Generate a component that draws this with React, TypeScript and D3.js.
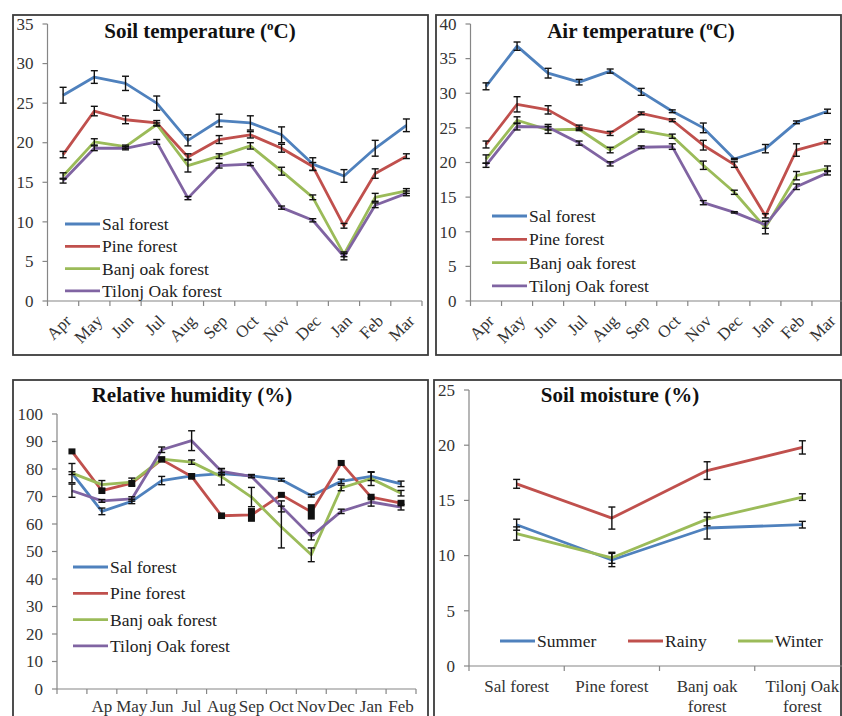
import * as d3 from "d3";

const FONT = "'Liberation Serif', 'Times New Roman', serif";
const COLORS = ["#4F81BD", "#C0504D", "#9BBB59", "#8064A2"];
const AXIS = "#868686";
const INK = "#333";

const FORESTS = ["Sal forest", "Pine forest", "Banj oak forest", "Tilonj Oak forest"];
const MONTHS = ["Apr", "May", "Jun", "Jul", "Aug", "Sep", "Oct", "Nov", "Dec", "Jan", "Feb", "Mar"];
// humidity panel shows shifted, overlapping labels
const RH_LABELS = ["", "Ap", "May", "Jun", "Jul", "Aug", "Sep", "Oct", "Nov", "Dec", "Jan", "Feb"];
const SM_SITES = ["Sal forest", "Pine forest", "Banj oak|forest", "Tilonj Oak|forest"];
const SEASONS = ["Summer", "Rainy", "Winter"];

// soil temperature (°C)
const ST_SAL = [26.0, 28.3, 27.5, 25.0, 20.3, 22.8, 22.5, 21.0, 17.3, 15.8, 19.3, 22.2];
const ST_SAL_ERR = [1.0, 0.8, 0.9, 0.9, 0.7, 0.8, 0.9, 1.0, 0.8, 0.8, 1.0, 0.8];
const ST_PINE = [18.5, 24.0, 22.9, 22.5, 18.2, 20.4, 21.0, 19.3, 17.0, 9.5, 16.1, 18.3];
const ST_PINE_ERR = [0.4, 0.6, 0.5, 0.3, 0.4, 0.5, 0.4, 0.5, 0.5, 0.3, 0.6, 0.3];
const ST_BANJ = [15.8, 20.1, 19.5, 22.3, 17.1, 18.3, 19.6, 16.4, 13.1, 5.9, 13.1, 13.9];
const ST_BANJ_ERR = [0.4, 0.4, 0.2, 0.2, 0.8, 0.3, 0.4, 0.5, 0.3, 0.3, 0.5, 0.3];
const ST_TILONJ = [15.2, 19.3, 19.3, 20.1, 13.0, 17.1, 17.3, 11.8, 10.2, 5.6, 12.1, 13.6];
const ST_TILONJ_ERR = [0.3, 0.3, 0.2, 0.3, 0.2, 0.3, 0.2, 0.2, 0.2, 0.4, 0.3, 0.3];

// air temperature (°C)
const AT_SAL = [31.0, 36.8, 32.9, 31.6, 33.2, 30.2, 27.4, 25.0, 20.5, 22.0, 25.8, 27.4];
const AT_SAL_ERR = [0.5, 0.6, 0.7, 0.4, 0.3, 0.5, 0.2, 0.7, 0.1, 0.6, 0.2, 0.3];
const AT_PINE = [22.6, 28.4, 27.6, 25.1, 24.2, 27.1, 26.1, 22.5, 19.7, 12.3, 21.8, 23.0];
const AT_PINE_ERR = [0.5, 1.1, 0.6, 0.3, 0.3, 0.2, 0.2, 0.7, 0.4, 0.3, 0.9, 0.3];
const AT_BANJ = [20.5, 26.1, 24.7, 24.8, 21.8, 24.6, 23.8, 19.6, 15.7, 10.6, 18.1, 19.1];
const AT_BANJ_ERR = [0.6, 0.5, 0.5, 0.2, 0.4, 0.2, 0.3, 0.6, 0.3, 0.9, 0.6, 0.4];
const AT_TILONJ = [19.6, 25.2, 25.1, 22.8, 19.8, 22.2, 22.3, 14.2, 12.8, 11.0, 16.5, 18.5];
const AT_TILONJ_ERR = [0.3, 0.5, 0.4, 0.3, 0.3, 0.2, 0.4, 0.3, 0.1, 0.5, 0.4, 0.3];

// relative humidity (%)
const RH_SAL = [78.5, 64.6, 68.2, 75.8, 77.5, 78.3, 77.5, 76.1, 70.3, 75.5, 77.3, 74.6];
const RH_SAL_ERR = [3.5, 1.2, 0.8, 1.5, 0.8, 0.5, 0.5, 0.5, 0.5, 0.8, 1.5, 1.0];
const RH_PINE = [86.4, 72.1, 74.9, 83.4, 77.3, 63.0, 63.3, 70.6, 64.4, 82.2, 69.8, 67.6];
const RH_PINE_ERR = [1.0, 1.2, 0.5, 1.0, 1.2, 1.2, 2.5, 0.8, 2.8, 0.8, 1.2, 1.2];
const RH_BANJ = [78.5, 74.3, 75.2, 83.6, 82.5, 77.2, 69.8, 58.9, 48.8, 73.1, 76.5, 71.2];
const RH_BANJ_ERR = [0.5, 1.5, 1.5, 0.8, 0.8, 3.0, 3.5, 7.6, 2.5, 1.0, 2.5, 1.0];
const RH_TILONJ = [72.1, 68.4, 69.1, 87.0, 90.3, 79.1, 77.3, 66.4, 55.5, 64.6, 68.0, 66.1];
const RH_TILONJ_ERR = [2.4, 0.5, 0.8, 1.0, 3.6, 1.0, 0.5, 2.0, 1.3, 0.8, 1.5, 1.0];

// soil moisture (%)
const SM_SUMMER = [12.8, 9.6, 12.5, 12.8];
const SM_SUMMER_ERR = [0.5, 0.6, 1.0, 0.3];
const SM_RAINY = [16.5, 13.4, 17.7, 19.8];
const SM_RAINY_ERR = [0.4, 1.0, 0.8, 0.6];
const SM_WINTER = [12.0, 9.8, 13.3, 15.3];
const SM_WINTER_ERR = [0.6, 0.5, 0.6, 0.3];

type Series = { name: string; color: string; values: number[]; err: number[]; block?: boolean };

type PanelProps = {
  frame: [number, number, number, number];
  xRange: [number, number];
  yRange: [number, number];
  yMax: number;
  yStep: number;
  labels: string[];
  labelMode: "rot" | "flat" | "wrap";
  series: Series[];
  title: string;
  superC?: boolean;
  titleX: number;
  titleY: number;
  legend: { x: number; y: number }[];
};

function Panel(p: PanelProps) {
  const n = p.labels.length;
  const x = d3.scaleBand<number>().domain(d3.range(n)).range(p.xRange).padding(0);
  const cx = (i: number) => (x(i) as number) + x.bandwidth() / 2;
  const y = d3.scaleLinear().domain([0, p.yMax]).range(p.yRange);
  const yTicks = d3.range(0, p.yMax + 0.001, p.yStep);
  const line = d3
    .line<number>()
    .x((_, i) => cx(i))
    .y((d) => y(d));
  const [fx, fy, fw, fh] = p.frame;
  const x0 = p.xRange[0];
  const yb = p.yRange[0];

  return (
    <g fontFamily={FONT}>
      <rect x={fx} y={fy} width={fw} height={fh} fill="none" stroke="#3c3c3c" strokeWidth={1.8} />

      {/* axes */}
      <line x1={x0} x2={x0} y1={p.yRange[1]} y2={yb} stroke={AXIS} strokeWidth={1.2} />
      <line x1={x0} x2={p.xRange[1]} y1={yb} y2={yb} stroke={AXIS} strokeWidth={1.2} />
      {yTicks.map((t) => (
        <g key={t}>
          <line x1={x0 - 5} x2={x0} y1={y(t)} y2={y(t)} stroke={AXIS} strokeWidth={1.2} />
          <text x={x0 - 14} y={y(t)} dy="0.34em" textAnchor="end" fontSize={17} fill={INK}>
            {t}
          </text>
        </g>
      ))}
      {d3.range(n + 1).map((i) => {
        const xx = i < n ? (x(i) as number) : p.xRange[1];
        return <line key={i} x1={xx} x2={xx} y1={yb} y2={yb + 5} stroke={AXIS} strokeWidth={1.2} />;
      })}
      {p.labels.map((l, i) => {
        if (p.labelMode === "rot")
          return (
            <text
              key={i}
              transform={`translate(${cx(i) + 5},${yb + 17}) rotate(-45)`}
              textAnchor="end"
              dy="0.34em"
              fontSize={17}
              fill={INK}>
              {l}
            </text>
          );
        if (p.labelMode === "flat")
          return (
            <text key={i} x={cx(i)} y={yb + 23} textAnchor="middle" fontSize={17} fill={INK}>
              {l}
            </text>
          );
        return (
          <text key={i} x={cx(i)} y={yb + 26} textAnchor="middle" fontSize={17} fill={INK}>
            {l.split("|").map((s, k) => (
              <tspan key={k} x={cx(i)} dy={k === 0 ? 0 : 20}>
                {s}
              </tspan>
            ))}
          </text>
        );
      })}

      {/* series lines */}
      {p.series.map((s) => (
        <path key={s.name} d={line(s.values) ?? ""} fill="none" stroke={s.color} strokeWidth={2.8} strokeLinejoin="round" />
      ))}

      {/* error bars */}
      {p.series.map((s) =>
        s.values.map((v, i) => {
          const top = y(v + s.err[i]);
          const bot = y(v - s.err[i]);
          const c = cx(i);
          if (s.block) {
            const h = Math.max(bot - top, 6);
            return <rect key={s.name + i} x={c - 3.5} y={(top + bot) / 2 - h / 2} width={7} height={h} fill="#111" />;
          }
          return (
            <g key={s.name + i} stroke="#111" strokeWidth={1.4}>
              <line x1={c} x2={c} y1={top} y2={bot} />
              <line x1={c - 3.5} x2={c + 3.5} y1={top} y2={top} />
              <line x1={c - 3.5} x2={c + 3.5} y1={bot} y2={bot} />
            </g>
          );
        })
      )}

      {/* legend */}
      {p.series.map((s, i) => {
        const pos = p.legend[i];
        return (
          <g key={s.name}>
            <line x1={pos.x} x2={pos.x + 35} y1={pos.y} y2={pos.y} stroke={s.color} strokeWidth={2.8} />
            <text x={pos.x + 37} y={pos.y} dy="0.34em" fontSize={17.5} fill="#222">
              {s.name}
            </text>
          </g>
        );
      })}

      <text x={p.titleX} y={p.titleY} textAnchor="middle" fontSize={21} fontWeight="bold" fill="#111">
        {p.title}
        {p.superC && (
          <>
            <tspan fontSize={13} dy={-8}>o</tspan>
            <tspan dy={8}>C)</tspan>
          </>
        )}
      </text>
    </g>
  );
}

const forestSeries = (vals: number[][], errs: number[][], blockIdx = -1): Series[] =>
  FORESTS.map((name, i) => ({ name, color: COLORS[i], values: vals[i], err: errs[i], block: i === blockIdx }));

const vLegend = (x: number, y0: number, dy: number) => d3.range(4).map((i) => ({ x, y: y0 + i * dy }));

export default function App() {
  return (
    <div style={{ position: "absolute", left: 0, top: 0, background: "#fff" }}>
      <svg width={842} height={716} style={{ display: "block" }}>
        <rect width={842} height={716} fill="#fff" />
        <Panel
          frame={[13, 15, 415, 340]}
          xRange={[47.5, 422]}
          yRange={[301, 24]}
          yMax={35}
          yStep={5}
          labels={MONTHS}
          labelMode="rot"
          series={forestSeries([ST_SAL, ST_PINE, ST_BANJ, ST_TILONJ], [ST_SAL_ERR, ST_PINE_ERR, ST_BANJ_ERR, ST_TILONJ_ERR])}
          title="Soil temperature ("
          superC
          titleX={200}
          titleY={38}
          legend={vLegend(65, 224, 22.3)}
        />
        <Panel
          frame={[436, 15, 405, 340]}
          xRange={[470.5, 843]}
          yRange={[301, 24]}
          yMax={40}
          yStep={5}
          labels={MONTHS}
          labelMode="rot"
          series={forestSeries([AT_SAL, AT_PINE, AT_BANJ, AT_TILONJ], [AT_SAL_ERR, AT_PINE_ERR, AT_BANJ_ERR, AT_TILONJ_ERR])}
          title="Air temperature ("
          superC
          titleX={641}
          titleY={38}
          legend={vLegend(492, 216, 23.3)}
        />
        <Panel
          frame={[13, 380, 415, 345]}
          xRange={[57, 416]}
          yRange={[689, 414]}
          yMax={100}
          yStep={10}
          labels={RH_LABELS}
          labelMode="flat"
          series={forestSeries([RH_SAL, RH_PINE, RH_BANJ, RH_TILONJ], [RH_SAL_ERR, RH_PINE_ERR, RH_BANJ_ERR, RH_TILONJ_ERR], 1)}
          title="Relative humidity (%)"
          titleX={192}
          titleY={402}
          legend={vLegend(73, 567, 26.3)}
        />
        <Panel
          frame={[434, 380, 407, 345]}
          xRange={[469, 850]}
          yRange={[666, 390]}
          yMax={25}
          yStep={5}
          labels={SM_SITES}
          labelMode="wrap"
          series={SEASONS.map((name, i) => ({
            name,
            color: COLORS[i],
            values: [SM_SUMMER, SM_RAINY, SM_WINTER][i],
            err: [SM_SUMMER_ERR, SM_RAINY_ERR, SM_WINTER_ERR][i],
          }))}
          title="Soil moisture (%)"
          titleX={620}
          titleY={402}
          legend={[
            { x: 500, y: 641 },
            { x: 628, y: 641 },
            { x: 738, y: 641 },
          ]}
        />
      </svg>
    </div>
  );
}
